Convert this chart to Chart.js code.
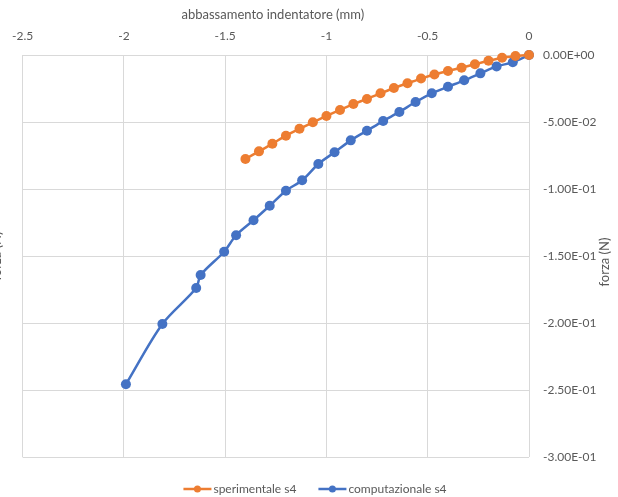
<!DOCTYPE html>
<html>
<head>
<meta charset="utf-8">
<style>
  html, body { margin: 0; padding: 0; background: #ffffff; }
  #wrap { width: 618px; height: 497px; }
</style>
<script src="https://cdn.jsdelivr.net/npm/chart.js@4/dist/chart.umd.min.js"></script>
</head>
<body>
<div id="wrap"><canvas id="chart" width="618" height="497"></canvas></div>
<script>
// Indentation depth (mm) and force (N), measured vs computed
const sperimentaleX = [-1.4, -1.333, -1.267, -1.2, -1.133, -1.067, -1.0, -0.933, -0.867, -0.8, -0.733,
                       -0.667, -0.6, -0.533, -0.467, -0.4, -0.333, -0.267, -0.2, -0.133, -0.067, 0];
const sperimentaleY = [-0.0776, -0.0719, -0.0662, -0.0602, -0.0550, -0.0502, -0.0455, -0.0410, -0.0366,
                       -0.0328, -0.0286, -0.0246, -0.0211, -0.0176, -0.0146, -0.0119, -0.0095, -0.0069,
                       -0.0043, -0.0020, -0.0008, 0];

const computazionaleX = [-1.99, -1.81, -1.643, -1.621, -1.505, -1.446, -1.36, -1.28, -1.2, -1.12, -1.04,
                         -0.96, -0.88, -0.8, -0.72, -0.64, -0.56, -0.48, -0.4, -0.32, -0.24, -0.16, -0.08, 0];
const computazionaleY = [-0.2457, -0.2007, -0.1739, -0.1642, -0.1468, -0.1345, -0.1233, -0.1125, -0.1013,
                         -0.0935, -0.0813, -0.0726, -0.0637, -0.0565, -0.0493, -0.0425, -0.0351, -0.0286,
                         -0.0237, -0.0189, -0.0137, -0.0085, -0.0054, 0];

const seriesNames = ['sperimentale s4', 'computazionale s4'];
const xTitle = 'abbassamento indentatore (mm)';
const yTitle = 'forza (N)';

const ORANGE = '#ED7D31';
const BLUE = '#4472C4';
const TEXT = '#595959';
const GRID = '#d9d9d9';
const FONT = 'Lato, "Open Sans", sans-serif';

function toPoints(xs, ys) { return xs.map((x, i) => ({ x: x, y: ys[i] })); }

// Excel-like scientific notation: -5.00E-02
function sci(v) {
  if (Math.abs(v) < 1e-12) return '0.00E+00';
  const parts = v.toExponential(2).split('e');
  const exp = parseInt(parts[1], 10);
  const sign = exp < 0 ? '-' : '+';
  const e = String(Math.abs(exp)).padStart(2, '0');
  return parts[0] + 'E' + sign + e;
}

const textPlugin = {
  id: 'textPlugin',
  afterDraw(chart) {
    const ctx = chart.ctx;
    const area = chart.chartArea;
    const midY = (area.top + area.bottom) / 2;
    ctx.save();
    ctx.fillStyle = TEXT;
    ctx.font = '13px ' + FONT;
    ctx.textAlign = 'center';
    ctx.textBaseline = 'middle';
    // top axis title
    ctx.fillText(xTitle, (area.left + area.right) / 2 - 3, 15);
    // right axis title
    ctx.save();
    ctx.translate(605, midY + 6);
    ctx.rotate(-Math.PI / 2);
    ctx.fillText(yTitle, 0, 0);
    ctx.restore();
    // left axis title, mostly outside the canvas
    ctx.save();
    ctx.translate(-3.5, midY);
    ctx.rotate(-Math.PI / 2);
    ctx.fillText(yTitle, 0, 0);
    ctx.restore();

    // legend
    ctx.font = '12px ' + FONT;
    ctx.textAlign = 'left';
    const colors = [ORANGE, BLUE];
    const lineLen = 28, gap = 2, itemGap = 22;
    const widths = seriesNames.map(n => lineLen + gap + ctx.measureText(n).width);
    const total = widths[0] + widths[1] + itemGap;
    let x = chart.width / 2 - total / 2 + 6;
    const ly = 489;
    seriesNames.forEach((name, i) => {
      ctx.strokeStyle = colors[i];
      ctx.lineWidth = 2.5;
      ctx.beginPath();
      ctx.moveTo(x, ly);
      ctx.lineTo(x + lineLen, ly);
      ctx.stroke();
      ctx.fillStyle = colors[i];
      ctx.beginPath();
      ctx.arc(x + lineLen / 2, ly, 3.5, 0, Math.PI * 2);
      ctx.fill();
      ctx.fillStyle = TEXT;
      ctx.fillText(name, x + lineLen + gap, ly);
      x += widths[i] + itemGap;
    });
    ctx.restore();
  }
};

new Chart(document.getElementById('chart'), {
  type: 'scatter',
  data: {
    datasets: [
      {
        label: seriesNames[0],
        data: toPoints(sperimentaleX, sperimentaleY),
        showLine: true,
        borderColor: ORANGE,
        backgroundColor: ORANGE,
        borderWidth: 2.5,
        pointRadius: 5,
        pointHoverRadius: 5,
        pointBorderWidth: 0,
        tension: 0.3,
        clip: false
      },
      {
        label: seriesNames[1],
        data: toPoints(computazionaleX, computazionaleY),
        showLine: true,
        borderColor: BLUE,
        backgroundColor: BLUE,
        borderWidth: 2.5,
        pointRadius: 5,
        pointHoverRadius: 5,
        pointBorderWidth: 0,
        tension: 0.3,
        clip: false
      }
    ]
  },
  options: {
    responsive: false,
    animation: false,
    layout: { padding: { left: 22, right: 0, top: 0, bottom: 40 } },
    plugins: {
      legend: { display: false },
      tooltip: { enabled: false }
    },
    scales: {
      x: {
        type: 'linear',
        position: 'top',
        min: -2.5,
        max: 0,
        afterFit(scale) { scale.height = 55; },
        border: { display: false },
        grid: { color: GRID, lineWidth: 1, drawTicks: false },
        ticks: {
          stepSize: 0.5,
          padding: 12,
          color: TEXT,
          font: { family: FONT, size: 12 },
          callback: v => String(Math.round(v * 10) / 10)
        }
      },
      y: {
        type: 'linear',
        position: 'right',
        min: -0.3,
        max: 0,
        afterFit(scale) { scale.width = 89; },
        border: { display: false },
        grid: { color: GRID, lineWidth: 1, drawTicks: false },
        ticks: {
          stepSize: 0.05,
          padding: 14,
          color: TEXT,
          font: { family: FONT, size: 12 },
          callback: v => sci(v)
        }
      }
    }
  },
  plugins: [textPlugin]
});
</script>
</body>
</html>
